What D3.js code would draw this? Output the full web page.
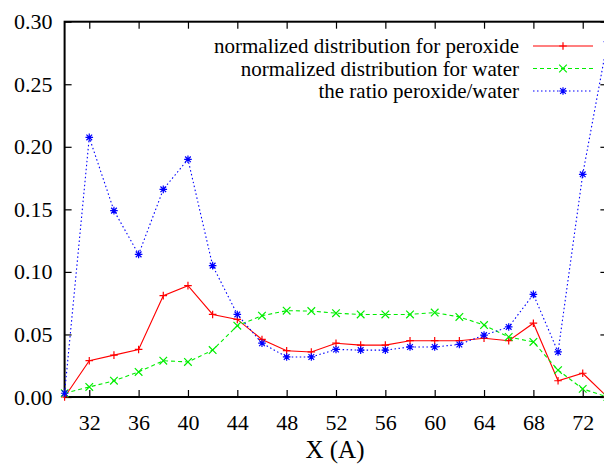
<!DOCTYPE html>
<html>
<head>
<meta charset="utf-8">
<script src="https://cdn.jsdelivr.net/npm/d3@7"></script>
<style>
  body { margin: 0; background: #fff; }
</style>
</head>
<body>
<div id="chart"></div>
<script>
const xValues = [30, 32, 34, 36, 38, 40, 42, 44, 46, 48, 50, 52, 54, 56, 58, 60, 62, 64, 66, 68, 70, 72, 74];

const peroxide = [0.000, 0.029, 0.0335, 0.038, 0.081, 0.089, 0.066, 0.062, 0.046, 0.037, 0.036, 0.043, 0.0415, 0.0415, 0.045, 0.045, 0.045, 0.047, 0.045, 0.059, 0.013, 0.019, 0.000];
const water = [0.003, 0.008, 0.013, 0.020, 0.029, 0.028, 0.0375, 0.057, 0.065, 0.069, 0.0687, 0.067, 0.066, 0.066, 0.066, 0.0675, 0.064, 0.0575, 0.048, 0.044, 0.0215, 0.0065, 0.000];
const ratio = [0.003, 0.2075, 0.149, 0.114, 0.166, 0.190, 0.105, 0.066, 0.043, 0.032, 0.032, 0.038, 0.0375, 0.0375, 0.040, 0.040, 0.042, 0.0495, 0.056, 0.082, 0.036, 0.178, 0.284];

const xTicks = [32, 36, 40, 44, 48, 52, 56, 60, 64, 68, 72];
const yTicks = [0, 0.05, 0.10, 0.15, 0.20, 0.25, 0.30];

const seriesNames = [
  "normalized distribution for peroxide",
  "normalized distribution for water",
  "the ratio peroxide/water"
];

const FONT = '"Liberation Serif", "Times New Roman", serif';

const series = [
  { name: seriesNames[0], values: peroxide, color: "#ff0000", dash: null, marker: "plus" },
  { name: seriesNames[1], values: water, color: "#00ee00", dash: "4,3", marker: "cross" },
  { name: seriesNames[2], values: ratio, color: "#0000ff", dash: "1.5,2.5", marker: "star" }
];

const W = 604, H = 466;
const margin = { top: 21.7, left: 64.6 };
const plotW = 542.8, plotH = 397 - 21.7;

const svg = d3.select("#chart").append("svg")
  .attr("width", W)
  .attr("height", H)
  .attr("font-family", FONT)
  .style("display", "block");

svg.append("defs").append("clipPath").attr("id", "clip")
  .append("rect")
  .attr("x", -4).attr("y", -4)
  .attr("width", plotW + 8).attr("height", plotH + 8);

const g = svg.append("g")
  .attr("transform", `translate(${margin.left},${margin.top})`);

const x = d3.scaleLinear().domain([30, 74]).range([0, plotW]);
const y = d3.scaleLinear().domain([0, 0.30]).range([plotH, 0]);

// gnuplot style: ticks point inward on all four sides
const tickLen = 7;
const styleAxis = a => {
  a.attr("font-family", FONT);
  a.select(".domain").remove();
  a.selectAll("line").attr("stroke", "#000").attr("stroke-width", 1.2);
  a.selectAll("text").attr("font-size", 22).attr("fill", "#000").attr("font-family", FONT);
};

g.append("g")
  .call(d3.axisLeft(y).tickValues(yTicks).tickSize(-tickLen).tickPadding(12).tickFormat(d3.format(".2f")))
  .call(styleAxis);

g.append("g")
  .attr("transform", `translate(${plotW},0)`)
  .call(d3.axisRight(y).tickValues(yTicks).tickSize(-tickLen).tickFormat(""))
  .call(styleAxis);

g.append("g")
  .attr("transform", `translate(0,${plotH})`)
  .call(d3.axisBottom(x).tickValues(xTicks).tickSize(-tickLen).tickPadding(17).tickFormat(d3.format("d")))
  .call(styleAxis);

g.append("g")
  .call(d3.axisTop(x).tickValues(xTicks).tickSize(-tickLen).tickFormat(""))
  .call(styleAxis);

// border
g.append("rect")
  .attr("width", plotW)
  .attr("height", plotH)
  .attr("fill", "none")
  .attr("stroke", "#000")
  .attr("stroke-width", 2);

svg.append("text")
  .attr("x", 335)
  .attr("y", 458)
  .attr("text-anchor", "middle")
  .attr("font-family", FONT)
  .attr("font-size", 25)
  .text("X (A)");

function markerPath(type, s) {
  if (type === "plus") return `M${-s},0H${s}M0,${-s}V${s}`;
  if (type === "cross") return `M${-s},${-s}L${s},${s}M${-s},${s}L${s},${-s}`;
  const k = s * 0.75;
  return `M${-s},0H${s}M0,${-s}V${s}M${-k},${-k}L${k},${k}M${-k},${k}L${k},${-k}`;
}

const line = d3.line()
  .x((d, i) => x(xValues[i]))
  .y(d => y(d));

const plot = g.append("g").attr("clip-path", "url(#clip)");

series.forEach(s => {
  plot.append("path")
    .datum(s.values)
    .attr("fill", "none")
    .attr("stroke", s.color)
    .attr("stroke-width", 1.1)
    .attr("stroke-dasharray", s.dash)
    .attr("d", line);

  plot.selectAll(null)
    .data(s.values)
    .enter()
    .append("path")
    .attr("transform", (d, i) => `translate(${x(xValues[i])},${y(d)})`)
    .attr("d", markerPath(s.marker, 3.8))
    .attr("stroke", s.color)
    .attr("stroke-width", 1.2)
    .attr("fill", "none");
});

// legend, top right inside the frame
const legend = svg.append("g");
series.forEach((s, i) => {
  const ly = 46 + i * 22.5;
  legend.append("text")
    .attr("x", 519)
    .attr("y", ly + 7)
    .attr("text-anchor", "end")
    .attr("font-family", FONT)
    .attr("font-size", 21)
    .text(s.name);
  legend.append("line")
    .attr("x1", 533).attr("x2", 593)
    .attr("y1", ly).attr("y2", ly)
    .attr("stroke", s.color)
    .attr("stroke-width", 1.1)
    .attr("stroke-dasharray", s.dash);
  legend.append("path")
    .attr("transform", `translate(563,${ly})`)
    .attr("d", markerPath(s.marker, 3.8))
    .attr("stroke", s.color)
    .attr("stroke-width", 1.2)
    .attr("fill", "none");
});
</script>
</body>
</html>
